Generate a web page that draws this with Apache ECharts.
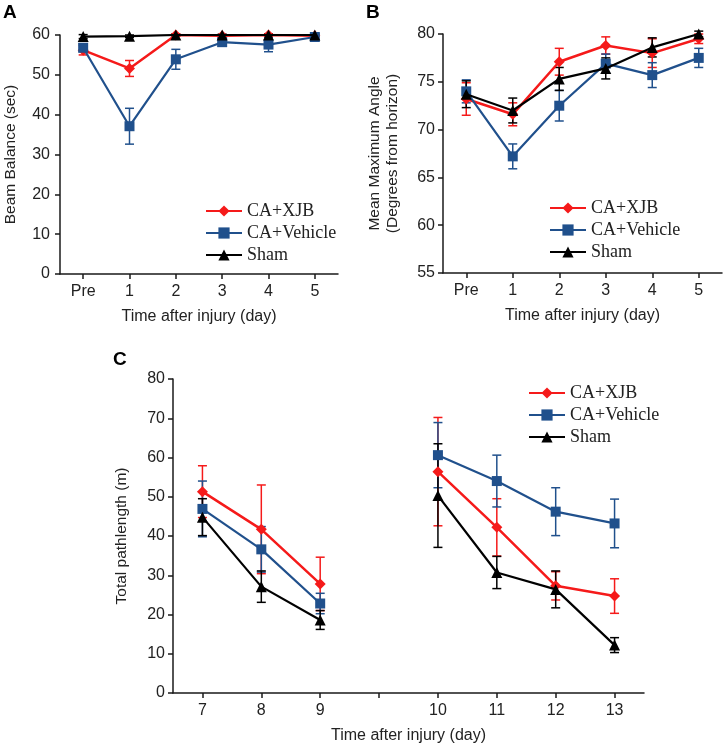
<!DOCTYPE html>
<html>
<head>
<meta charset="utf-8">
<script src="https://cdn.jsdelivr.net/npm/echarts@6/dist/echarts.min.js"></script>
<style>html,body{margin:0;padding:0;background:#fff;}#c{width:724px;height:746px;}</style>
</head>
<body>
<div id="c"></div>
<script>
// ---- Data ----
const seriesNames = ['CA+XJB', 'CA+Vehicle', 'Sham'];

// Panel A: Beam Balance (sec)
const daysAB = ['Pre', '1', '2', '3', '4', '5'];
const beamXJB = [56.2, 51.6, 60.0, 59.8, 60.0, 59.8];
const beamXJBErr = [1.2, 2.0, 0.3, 0.3, 0.3, 0.3];
const beamVeh = [56.8, 37.1, 53.9, 58.2, 57.6, 59.5];
const beamVehErr = [1.0, 4.5, 2.5, 1.0, 1.8, 0.8];
const beamSham = [59.6, 59.7, 60.0, 60.0, 60.0, 60.0];
const beamShamErr = [0.5, 0.3, 0.2, 0.2, 0.2, 0.2];

// Panel B: Mean Maximum Angle
const angleXJB = [73.2, 71.6, 77.1, 78.8, 78.0, 79.5];
const angleXJBErr = [1.7, 1.2, 1.4, 0.9, 1.5, 0.5];
const angleVeh = [74.0, 67.2, 72.5, 76.9, 75.7, 77.5];
const angleVehErr = [1.2, 1.3, 1.6, 1.0, 1.3, 1.0];
const angleSham = [73.7, 72.0, 75.3, 76.4, 78.6, 80.0];
const angleShamErr = [1.4, 1.3, 1.2, 1.1, 1.0, 0.3];

// Panel C: Total pathlength (m)
const pathDays = ['7', '8', '9', '', '10', '11', '12', '13'];
const pathXJB = [51.3, 41.7, 27.8, null, 56.4, 42.2, 27.3, 24.7];
const pathXJBErr = [6.6, 11.3, 6.8, null, 13.8, 7.3, 3.6, 4.4];
const pathVeh = [46.9, 36.6, 22.8, null, 60.6, 54.0, 46.2, 43.2];
const pathVehErr = [7.1, 5.8, 2.6, null, 8.3, 6.6, 6.1, 6.2];
const pathSham = [44.8, 27.1, 18.6, null, 50.3, 30.7, 26.4, 12.2];
const pathShamErr = [4.7, 4.0, 2.4, null, 13.2, 4.1, 4.7, 1.9];

// ---- Styles ----
const RED = '#f51a1a', BLUE = '#20508c', BLACK = '#000000';
const colors = [RED, BLUE, BLACK];
const symbols = ['diamond', 'rect', 'triangle'];
const symSizes = [11, 10, 11];
const lineWidths = [2.5, 2.2, 2.2];
const SANS = 'Liberation Sans, Arial, sans-serif';
const SERIF = 'Liberation Serif, Times New Roman, serif';

function errRender(color) {
  return function (params, api) {
    const i = api.value(0), m = api.value(1), e = api.value(2);
    const t = api.coord([i, m + e]);
    const b = api.coord([i, m - e]);
    const w = 4.5;
    const st = { stroke: color, lineWidth: 1.5 };
    return {
      type: 'group',
      children: [
        { type: 'line', shape: { x1: t[0], y1: t[1], x2: b[0], y2: b[1] }, style: st },
        { type: 'line', shape: { x1: t[0] - w, y1: t[1], x2: t[0] + w, y2: t[1] }, style: st },
        { type: 'line', shape: { x1: b[0] - w, y1: b[1], x2: b[0] + w, y2: b[1] }, style: st }
      ]
    };
  };
}

function errData(vals, errs) {
  const out = [];
  vals.forEach((v, i) => { if (v != null) out.push([i, v, errs[i]]); });
  return out;
}

const series = [];
function addPanel(idx, sets) {
  sets.forEach((s, k) => {
    series.push({
      type: 'custom', xAxisIndex: idx, yAxisIndex: idx, z: 1 + k,
      renderItem: errRender(colors[k]), data: errData(s[0], s[1]),
      encode: { x: 0, y: 1 }, silent: true, clip: false
    });
  });
  sets.forEach((s, k) => {
    series.push({
      type: 'line', name: seriesNames[k], xAxisIndex: idx, yAxisIndex: idx, z: 10 + k,
      data: s[0].map(v => v == null ? '-' : v),
      symbol: symbols[k], symbolSize: symSizes[k],
      lineStyle: { color: colors[k], width: lineWidths[k] },
      itemStyle: { color: colors[k] },
      connectNulls: false
    });
  });
}
addPanel(0, [[beamXJB, beamXJBErr], [beamVeh, beamVehErr], [beamSham, beamShamErr]]);
addPanel(1, [[angleXJB, angleXJBErr], [angleVeh, angleVehErr], [angleSham, angleShamErr]]);
addPanel(2, [[pathXJB, pathXJBErr], [pathVeh, pathVehErr], [pathSham, pathShamErr]]);

const axisLine = { show: true, lineStyle: { color: '#1a1a1a', width: 1.5 } };
const axisTick = { show: true, length: 5, lineStyle: { color: '#1a1a1a', width: 1.5 } };
const labelStyle = { color: '#222', fontSize: 16, fontFamily: SANS };
const nameStyle = { color: '#222', fontSize: 15.5, fontFamily: SANS };

function xAx(idx, cats) {
  return {
    type: 'category', gridIndex: idx, data: cats, boundaryGap: true,
    axisLine: axisLine,
    axisTick: Object.assign({ alignWithLabel: true, interval: 0 }, axisTick),
    axisLabel: Object.assign({ interval: 0, margin: 10 }, labelStyle),
    name: 'Time after injury (day)', nameLocation: 'middle', nameGap: 35,
    nameTextStyle: Object.assign({}, nameStyle, { fontSize: 16 }),
    splitLine: { show: false }
  };
}
function yAx(idx, min, max, interval, name, gap, lh) {
  return {
    type: 'value', gridIndex: idx, min: min, max: max, interval: interval,
    axisLine: axisLine, axisTick: axisTick,
    axisLabel: Object.assign({ margin: idx === 0 ? 10 : 8 }, labelStyle),
    splitLine: { show: false },
    name: name, nameLocation: 'middle', nameRotate: 90, nameGap: gap,
    nameTextStyle: Object.assign({ lineHeight: lh || 18 }, nameStyle)
  };
}

function legendAt(left, top) {
  return {
    data: seriesNames, orient: 'vertical', left: left, top: top, padding: 0,
    itemWidth: 36, itemHeight: 14, itemGap: 4,
    textStyle: { fontFamily: SERIF, fontSize: 18, color: '#222', lineHeight: 18 },
    selectedMode: false
  };
}

const option = {
  animation: false,
  backgroundColor: '#fff',
  grid: [
    { left: 60, top: 35, width: 278, height: 239 },
    { left: 443, top: 34, width: 279, height: 239 },
    { left: 173, top: 379, width: 471, height: 314 }
  ],
  xAxis: [xAx(0, daysAB), xAx(1, daysAB), xAx(2, pathDays)],
  yAxis: [
    yAx(0, 0, 60, 10, 'Beam Balance (sec)', 40),
    yAx(1, 55, 80, 5, 'Mean Maximum Angle\n(Degrees from horizon)', 41, 18),
    yAx(2, 0, 80, 10, 'Total pathlength (m)', 42)
  ],
  legend: [legendAt(205, 202), legendAt(549, 199), legendAt(528, 384)],
  series: series,
  graphic: [
    { type: 'text', left: 3, top: 3, style: { text: 'A', font: 'bold 19px ' + SANS, fill: '#000' } },
    { type: 'text', left: 366, top: 3, style: { text: 'B', font: 'bold 19px ' + SANS, fill: '#000' } },
    { type: 'text', left: 113, top: 350, style: { text: 'C', font: 'bold 19px ' + SANS, fill: '#000' } }
  ]
};

const chart = echarts.init(document.getElementById('c'), null, { renderer: 'canvas' });
chart.setOption(option);
</script>
</body>
</html>
